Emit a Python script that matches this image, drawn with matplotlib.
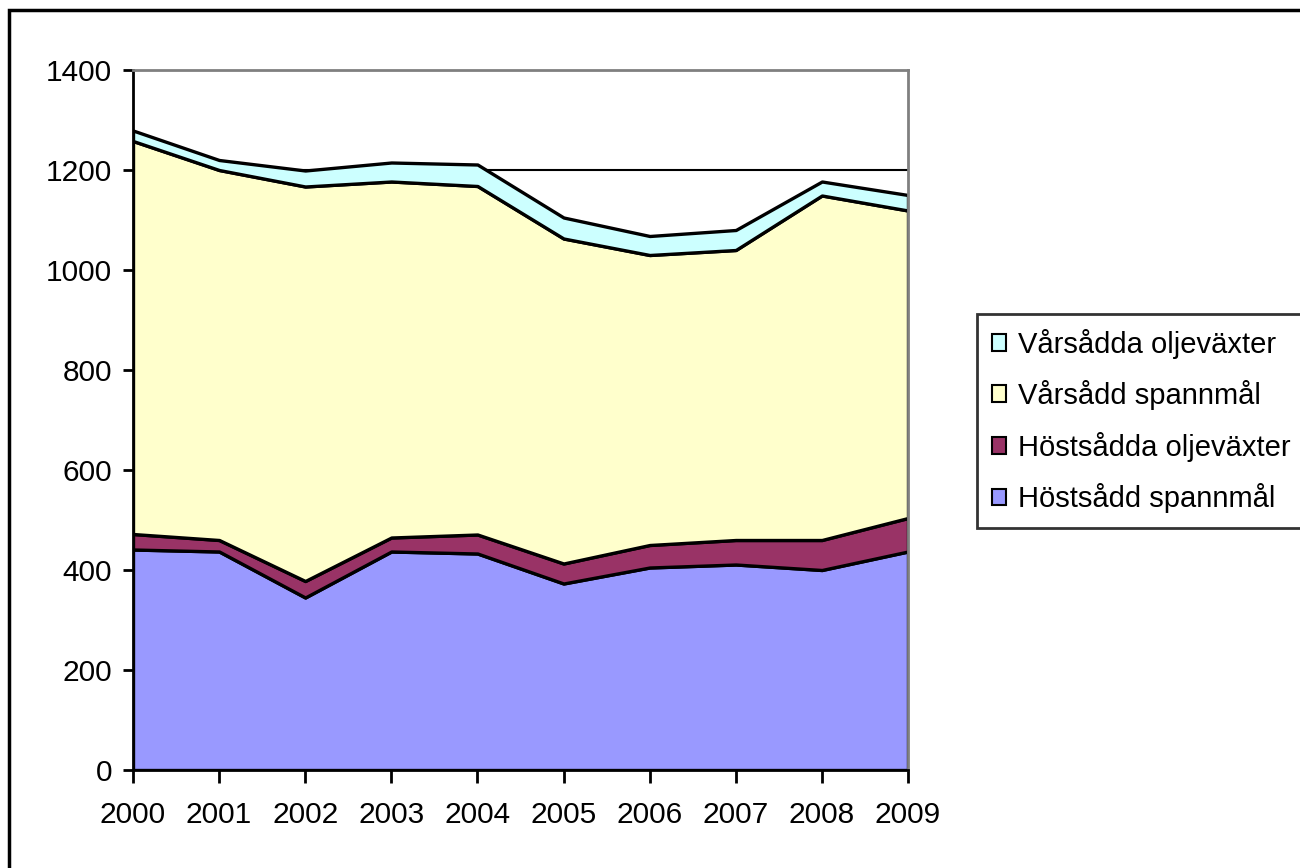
import numpy as np
import matplotlib.pyplot as plt
from matplotlib.patches import Rectangle

plt.rcParams['font.family'] = ['Liberation Sans', 'DejaVu Sans']

# Areal (1000 ha) per år
ar = [2000, 2001, 2002, 2003, 2004, 2005, 2006, 2007, 2008, 2009]
host_spannmal = [441, 437, 345, 437, 433, 373, 405, 411, 400, 437]
host_olje = [31, 23, 33, 28, 38, 40, 45, 49, 60, 67]
var_spannmal = [786, 740, 789, 712, 697, 650, 580, 580, 689, 615]
var_olje = [21, 20, 32, 38, 43, 42, 38, 40, 28, 31]

namn = ["Höstsådd spannmål", "Höstsådda oljeväxter", "Vårsådd spannmål", "Vårsådda oljeväxter"]
farger = ["#9999FF", "#993366", "#FFFFCC", "#CCFFFF"]

fig = plt.figure(figsize=(13, 8.68), dpi=100)
ax = fig.add_axes([133/1300, 1 - 770/868, 775/1300, 700/868])

x = np.arange(len(ar))
ax.stackplot(x, host_spannmal, host_olje, var_spannmal, var_olje,
             colors=farger, edgecolor='black', linewidth=2.4, labels=namn, zorder=2)

ax.set_xlim(0, len(ar) - 1)
ax.set_ylim(0, 1400)
ax.set_yticks(range(0, 1401, 200))
ax.set_xticks(x)
ax.set_xticklabels([str(a) for a in ar])
ax.yaxis.grid(True, color='black', linewidth=1.5, zorder=0)
ax.set_axisbelow(True)

ax.tick_params(axis='both', labelsize=21.5, width=2, color='black', direction='out')
ax.tick_params(axis='y', length=7, pad=8)
ax.tick_params(axis='x', length=9, pad=13)
for s in ['left', 'bottom']:
    ax.spines[s].set_linewidth(2)
    ax.spines[s].set_color('black')
for s in ['top', 'right']:
    ax.spines[s].set_linewidth(2)
    ax.spines[s].set_color('#808080')

# legend i omvänd ordning
h, l = ax.get_legend_handles_labels()
leg = fig.legend(h[::-1], l[::-1], loc='upper left', bbox_to_anchor=(977/1300, 1 - 314/868),
                 fontsize=21, frameon=True, fancybox=False, handlelength=0.5, handleheight=0.5,
                 handletextpad=0.4, labelspacing=0.74, borderpad=0.5, borderaxespad=0)
leg.get_frame().set_edgecolor('black')
leg.get_frame().set_linewidth(2)
for p in leg.get_patches():
    p.set_linewidth(1.5)

# ram runt diagrammet
fig.patches.append(Rectangle((9/1300, -0.1), 1.1, 1.1 - 10/868, transform=fig.transFigure,
                             fill=False, edgecolor='black', linewidth=2.5))

fig.savefig("out.png", dpi=100)
